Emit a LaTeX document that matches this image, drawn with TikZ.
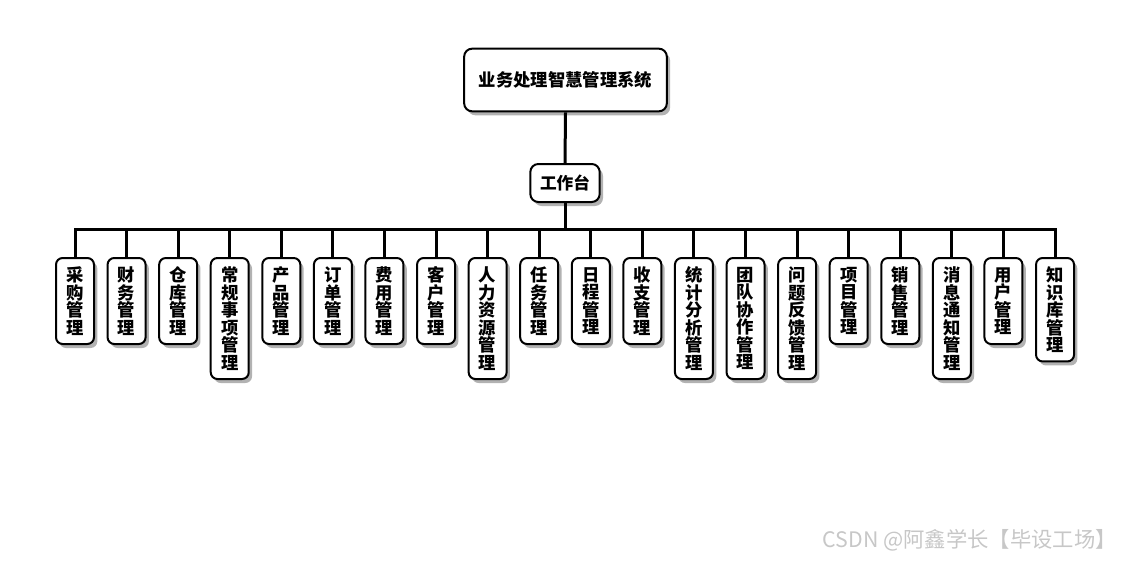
\documentclass[tikz,border=0pt]{standalone}
\usepackage{fontspec}
\setmainfont{Noto Sans CJK SC}
\usetikzlibrary{shadows}
\tikzset{
  px/.style={x=0.75pt,y=-0.75pt},
  box/.style={draw=black, line width=1.5pt, fill=white, rounded corners=6pt,
    drop shadow={shadow xshift=2.5pt, shadow yshift=-3pt, fill=black, opacity=0.3},
    font=\bfseries, align=center, inner sep=0pt},
  rootbox/.style={box, minimum width=152pt, minimum height=47pt, font=\bfseries\fontsize{13}{15}\selectfont},
  wbbox/.style={box, minimum width=52pt, minimum height=28.5pt, font=\bfseries\fontsize{12.5}{14}\selectfont},
  leafbox/.style={box, anchor=north, minimum width=28.5pt, rounded corners=5pt,
    font=\bfseries\fontsize{13}{13.125}\selectfont},
  conn/.style={line width=2.25pt},
  mark4/.style={minimum height=64.5pt},
  mark5/.style={minimum height=77.6pt},
  mark6/.style={minimum height=90.75pt},
}
\begin{document}
\begin{tikzpicture}[px]
\useasboundingbox (0,0) rectangle (1130,560);
\node[rootbox] (root) at (565.5,80) {业务处理智慧管理系统};
\node[wbbox] (wb) at (565,183) {工作台};
\coordinate (bus) at (565,229);
\foreach \i/\t/\n in {
  1/采\\购\\管\\理/4,
  2/财\\务\\管\\理/4,
  3/仓\\库\\管\\理/4,
  4/常\\规\\事\\项\\管\\理/6,
  5/产\\品\\管\\理/4,
  6/订\\单\\管\\理/4,
  7/费\\用\\管\\理/4,
  8/客\\户\\管\\理/4,
  9/人\\力\\资\\源\\管\\理/6,
  10/任\\务\\管\\理/4,
  11/日\\程\\管\\理/4,
  12/收\\支\\管\\理/4,
  13/统\\计\\分\\析\\管\\理/6,
  14/团\\队\\协\\作\\管\\理/6,
  15/问\\题\\反\\馈\\管\\理/6,
  16/项\\目\\管\\理/4,
  17/销\\售\\管\\理/4,
  18/消\\息\\通\\知\\管\\理/6,
  19/用\\户\\管\\理/4,
  20/知\\识\\库\\管\\理/5}
{
  \node[leafbox, mark\n] (l\i) at ({75+(\i-1)*51.58},257) {\t};
}
\draw[conn] (root.south) -- (wb.north);
\draw[conn] (wb.south) -- (bus);
\draw[conn, line cap=rect] (l1.north) |- (bus) -| (l20.north);
\foreach \i in {2,...,19} {
  \draw[conn] (l\i.north) -- (l\i.north |- bus);
}
\node[anchor=east, text=black!22, font=\fontsize{16}{18}\selectfont, inner sep=0pt] (wm) at (1117,540) {CSDN @阿鑫学长【毕设工场】};
\end{tikzpicture}
\end{document}
